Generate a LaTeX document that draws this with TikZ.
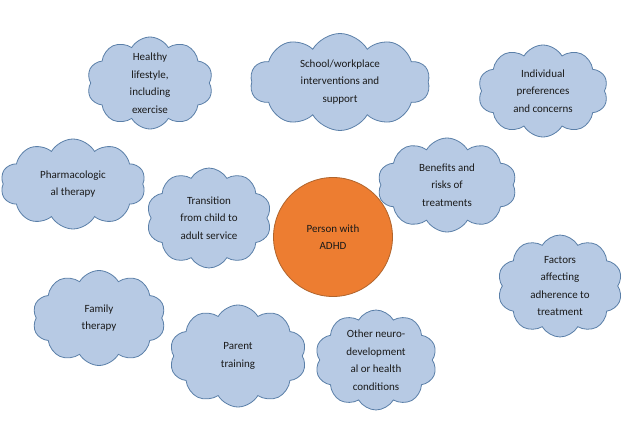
\documentclass[tikz,border=0pt]{standalone}
\usepackage{fontspec}
\setmainfont{Carlito}
\usetikzlibrary{shapes.symbols}
\definecolor{cloudfill}{HTML}{B7CAE4}
\definecolor{clouddraw}{HTML}{5A7FA8}
\definecolor{orangefill}{HTML}{ED7D31}
\definecolor{orangedraw}{HTML}{B0642C}
\definecolor{txt}{HTML}{1A1A1A}
\begin{document}
\begin{tikzpicture}[x=1pt,y=-1pt,
  bubble/.style={cloud, cloud puffs=10, cloud puff arc=120, cloud ignores aspect,
    fill=cloudfill, draw=clouddraw, line width=0.8pt, align=center, text=txt,
    font=\fontsize{11}{17.5}\selectfont, inner sep=0pt},
  hub/.style={circle, fill=orangefill, draw=orangedraw, line width=0.8pt, align=center,
    text=txt, font=\fontsize{11}{17.5}\selectfont, minimum size=119pt, inner sep=0pt}]
\useasboundingbox (0,0) rectangle (639,446);
\fill[white] (0,0) rectangle (639,446);
\node[bubble, minimum width=126pt, minimum height=92pt] (healthy) at (150,83) {Healthy\\lifestyle,\\including\\exercise};
\node[bubble, minimum width=180pt, minimum height=97pt] (school) at (340,82) {School/workplace\\interventions and\\support};
\node[bubble, minimum width=130pt, minimum height=92pt] (indiv) at (543,91) {Individual\\preferences\\and concerns};
\node[bubble, minimum width=145pt, minimum height=90pt] (pharma) at (73,184) {Pharmacologic\\al therapy};
\node[bubble, minimum width=125pt, minimum height=100pt] (trans) at (209,218) {Transition\\from child to\\adult service};
\node[bubble, minimum width=139pt, minimum height=94pt] (benef) at (447,185) {Benefits and\\risks of\\treatments};
\node[hub] (person) at (333,237) {Person with\\ADHD};
\node[bubble, minimum width=125pt, minimum height=102pt] (factors) at (560,286) {Factors\\affecting\\adherence to\\treatment};
\node[bubble, minimum width=133pt, minimum height=95pt] (family) at (99,318) {Family\\therapy};
\node[bubble, minimum width=137pt, minimum height=102pt] (parent) at (238,356) {Parent\\training};
\node[bubble, minimum width=122pt, minimum height=100pt] (other) at (376,360) {Other neuro-\\development\\al or health\\conditions};
\end{tikzpicture}
\end{document}
